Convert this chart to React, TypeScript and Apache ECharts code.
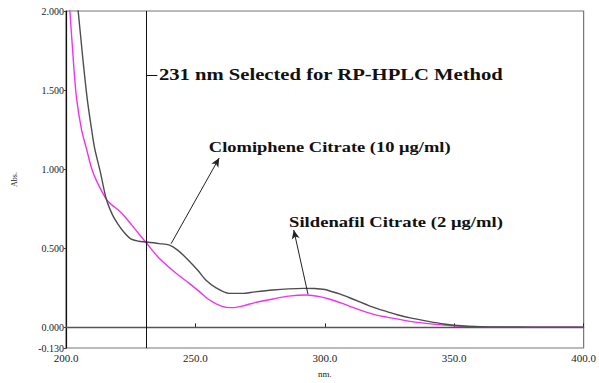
import React, { useEffect, useRef } from "react";
import * as echarts from "echarts";

// Wavelength (nm) and absorbance readings
const clomipheneX = [200, 202, 204.7, 206.5, 208.2, 210, 211.1, 213.3, 215.6, 218, 220, 222.5, 225, 228, 231, 236, 240, 243, 247, 251, 254, 258, 263, 268, 273, 280, 286, 292, 296, 300, 302, 306, 311, 316, 320, 324, 328, 333, 340, 346, 354, 360, 370, 380, 400];
const clomipheneY = [2.8, 2.4, 2.0, 1.7, 1.445, 1.24, 1.13, 0.98, 0.81, 0.71, 0.655, 0.6, 0.56, 0.545, 0.54, 0.53, 0.52, 0.49, 0.43, 0.36, 0.3, 0.25, 0.215, 0.215, 0.225, 0.237, 0.244, 0.247, 0.246, 0.24, 0.23, 0.21, 0.178, 0.145, 0.12, 0.1, 0.08, 0.06, 0.038, 0.022, 0.009, 0.005, 0.003, 0.002, 0.002];

const sildenafilX = [200, 201.5, 203, 204.1, 206, 207.9, 210, 212, 215.6, 218, 220, 223, 227, 231, 236, 242.4, 247.5, 252, 255, 260, 264, 268, 273, 280, 286, 293, 298, 302, 307, 311, 316, 320, 324, 333, 340, 346, 354, 360, 370, 400];
const sildenafilY = [2.3, 2.0, 1.65, 1.445, 1.25, 1.13, 1.0, 0.92, 0.81, 0.77, 0.745, 0.695, 0.615, 0.535, 0.437, 0.344, 0.28, 0.22, 0.178, 0.135, 0.125, 0.135, 0.157, 0.18, 0.198, 0.205, 0.195, 0.178, 0.15, 0.125, 0.097, 0.078, 0.065, 0.038, 0.024, 0.015, 0.006, 0.004, 0.002, 0.002];

const xTicks = [200, 250, 300, 350, 400];
const yTicks = [-0.13, 0, 0.5, 1.0, 1.5, 2.0];

const selectedWavelength = 231;
const titleText = "231 nm Selected for RP-HPLC Method";
const clomipheneLabel = "Clomiphene Citrate (10 μg/ml)";
const sildenafilLabel = "Sildenafil Citrate (2 μg/ml)";

// annotation anchors in data space: [nm, Abs]
const titleAnchor = [235.9, 1.594];
const clomipheneAnchor = [255.2, 1.14];
const sildenafilAnchor = [286.2, 0.666];

const SERIF = "Liberation Serif, Times New Roman, serif";

export default function App() {
  const ref = useRef<HTMLDivElement>(null);
  useEffect(() => {
    if (!ref.current) return;
    const chart = echarts.init(ref.current, null, { renderer: "svg" });
    const zip = (xs: number[], ys: number[]) => xs.map((x, i) => [x, ys[i]]);
    chart.setOption({
      animation: false,
      grid: {
        left: 66,
        right: 11,
        top: 11,
        bottom: 30,
        show: true,
        borderColor: "#777",
        borderWidth: 1.2,
        backgroundColor: "#fff",
      },
      xAxis: {
        type: "value",
        min: 200,
        max: 400,
        interval: 50,
        name: "nm.",
        nameLocation: "middle",
        nameGap: 21,
        nameTextStyle: { fontFamily: SERIF, fontSize: 9, color: "#222" },
        axisLine: { lineStyle: { color: "#111", width: 1.2 } },
        axisTick: { show: true, inside: true, length: 4, lineStyle: { color: "#222" }, customValues: xTicks },
        axisLabel: {
          customValues: xTicks,
          formatter: (v: number) => v.toFixed(1),
          fontFamily: SERIF,
          fontSize: 11,
          color: "#222",
          margin: 4,
        },
        splitLine: { show: false },
      },
      yAxis: {
        type: "value",
        min: -0.13,
        max: 2.0,
        name: "Abs.",
        nameLocation: "middle",
        nameGap: 48,
        nameRotate: 90,
        nameTextStyle: { fontFamily: SERIF, fontSize: 8, color: "#222" },
        axisLine: { show: true, lineStyle: { color: "#111", width: 1.2 } },
        axisTick: { show: true, length: 2, lineStyle: { color: "#444" }, customValues: yTicks },
        axisLabel: {
          customValues: yTicks,
          formatter: (v: number) => v.toFixed(3),
          fontFamily: SERIF,
          fontSize: 10,
          color: "#222",
          margin: 2,
        },
        splitLine: { show: false },
      },
      series: [
        {
          type: "line",
          name: "Sildenafil Citrate",
          data: zip(sildenafilX, sildenafilY),
          smooth: 0.3,
          showSymbol: false,
          clip: true,
          lineStyle: { color: "#ee33ee", width: 1.4 },
          z: 3,
          markLine: {
            silent: true,
            symbol: ["none", "none"],
            label: { show: false },
            data: [
              { yAxis: 0, lineStyle: { color: "#555", width: 1.4, type: "solid" } },
              { xAxis: selectedWavelength, lineStyle: { color: "#111", width: 1, type: "solid" } },
              [
                { coord: [selectedWavelength, titleAnchor[1]], lineStyle: { color: "#111", width: 1, type: "solid" } },
                { coord: [235.3, titleAnchor[1]] },
              ],
            ],
          },
        },
        {
          type: "line",
          name: "Clomiphene Citrate",
          data: zip(clomipheneX, clomipheneY),
          smooth: 0.3,
          showSymbol: false,
          clip: true,
          lineStyle: { color: "#4d4d4d", width: 1.4 },
          z: 4,
          markLine: {
            silent: true,
            symbol: ["none", "arrow"],
            symbolSize: [6, 9],
            label: { show: false },
            lineStyle: { color: "#222", width: 1, type: "solid" },
            data: [
              [{ coord: [240.6, 0.529] }, { coord: [259.2, 1.071] }],
              [{ coord: [293.5, 0.21] }, { coord: [288, 0.616] }],
            ],
          },
        },
      ],
    });
    const place = (anchor: number[], text: string, size: number, sx: number) => {
      const p = chart.convertToPixel({ gridIndex: 0 }, anchor) as number[];
      return {
        type: "text",
        x: p[0],
        y: p[1],
        scaleX: sx,
        silent: true,
        z: 10,
        style: {
          text,
          x: 0,
          y: 0,
          font: `bold ${size}px ${SERIF}`,
          fill: "#111",
          align: "left",
          verticalAlign: "middle",
        },
      };
    };
    chart.setOption({
      graphic: [
        place(titleAnchor, titleText, 16, 1.29),
        place(clomipheneAnchor, clomipheneLabel, 14, 1.32),
        place(sildenafilAnchor, sildenafilLabel, 14, 1.33),
      ],
    });
    return () => chart.dispose();
  }, []);
  return <div ref={ref} style={{ width: 599, height: 383, position: "absolute", left: 0, top: 0 }} />;
}
